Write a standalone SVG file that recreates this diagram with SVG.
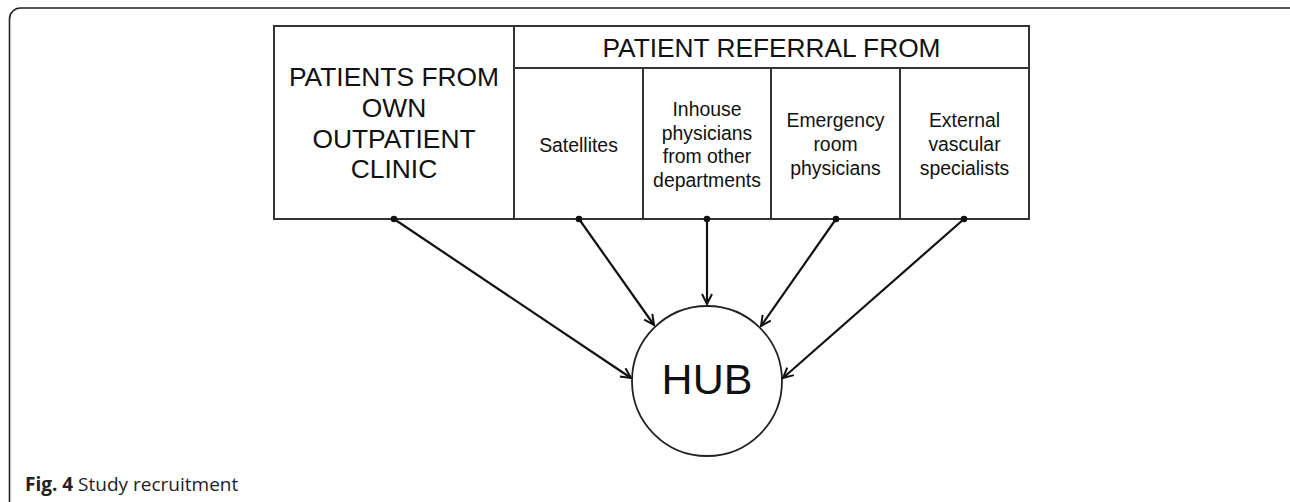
<svg xmlns="http://www.w3.org/2000/svg" width="1290" height="502" viewBox="0 0 1290 502">
<defs>
<style>
.frame{fill:none;stroke:#222;stroke-width:1.6}
.cell{fill:#fff;stroke:#333;stroke-width:2}
.big{font-family:"Liberation Sans",Arial,sans-serif;font-size:26.4px;fill:#111;text-anchor:middle}
.hdr{font-family:"Liberation Sans",Arial,sans-serif;font-size:26.3px;fill:#111;text-anchor:middle}
.sm{font-family:"Liberation Sans",Arial,sans-serif;font-size:19.4px;fill:#111;text-anchor:middle}
.hub{font-family:"Liberation Sans",Arial,sans-serif;font-size:43px;fill:#111;text-anchor:middle}
.edge{fill:none;stroke:#111;stroke-width:2.2}
.dot{fill:#111}
.cap{font-family:"Open Sans","Noto Sans",sans-serif;font-size:19px;fill:#222}
</style>
<marker id="arr" viewBox="0 0 12 12" refX="11" refY="6" markerWidth="12" markerHeight="12" markerUnits="userSpaceOnUse" orient="auto">
<path d="M1,1 L11,6 L1,11" fill="none" stroke="#111" stroke-width="2"/>
</marker>
</defs>
<rect class="frame" x="9.5" y="8" width="1295" height="505" rx="11"/>
<g id="own-clinic">
<rect class="cell" x="274" y="26" width="240" height="193"/>
<text class="big" x="394" y="86">PATIENTS FROM</text>
<text class="big" x="394" y="117">OWN</text>
<text class="big" x="394" y="148">OUTPATIENT</text>
<text class="big" x="394" y="178">CLINIC</text>
</g>
<g id="referral-header">
<rect class="cell" x="514" y="26" width="515" height="42"/>
<text class="hdr" x="771.5" y="57">PATIENT REFERRAL FROM</text>
</g>
<g id="satellites">
<rect class="cell" x="514" y="68" width="129" height="151"/>
<text class="sm" x="578.5" y="152">Satellites</text>
</g>
<g id="inhouse">
<rect class="cell" x="643" y="68" width="128" height="151"/>
<text class="sm" x="707" y="116">Inhouse</text>
<text class="sm" x="707" y="139.5">physicians</text>
<text class="sm" x="707" y="163">from other</text>
<text class="sm" x="707" y="186.5">departments</text>
</g>
<g id="emergency">
<rect class="cell" x="771" y="68" width="129" height="151"/>
<text class="sm" x="835.5" y="127">Emergency</text>
<text class="sm" x="835.5" y="151">room</text>
<text class="sm" x="835.5" y="175">physicians</text>
</g>
<g id="external">
<rect class="cell" x="900" y="68" width="129" height="151"/>
<text class="sm" x="964.5" y="127">External</text>
<text class="sm" x="964.5" y="151">vascular</text>
<text class="sm" x="964.5" y="175">specialists</text>
</g>
<g id="hub">
<circle cx="707" cy="381" r="75" fill="#fff" stroke="#222" stroke-width="1.8"/>
<text class="hub" x="707" y="394">HUB</text>
</g>
<g id="connectors">
<path class="edge" d="M394,219 L631,378" marker-end="url(#arr)"/>
<path class="edge" d="M579,219 L654,325" marker-end="url(#arr)"/>
<path class="edge" d="M707,219 L707,304" marker-end="url(#arr)"/>
<path class="edge" d="M836,219 L761,326" marker-end="url(#arr)"/>
<path class="edge" d="M964,219 L783,378" marker-end="url(#arr)"/>
<circle class="dot" cx="394" cy="219" r="3.3"/>
<circle class="dot" cx="579" cy="219" r="3.3"/>
<circle class="dot" cx="707" cy="219" r="3.3"/>
<circle class="dot" cx="836" cy="219" r="3.3"/>
<circle class="dot" cx="964" cy="219" r="3.3"/>
</g>
<text class="cap" x="25" y="491"><tspan font-weight="bold">Fig. 4</tspan> Study recruitment</text>
</svg>
